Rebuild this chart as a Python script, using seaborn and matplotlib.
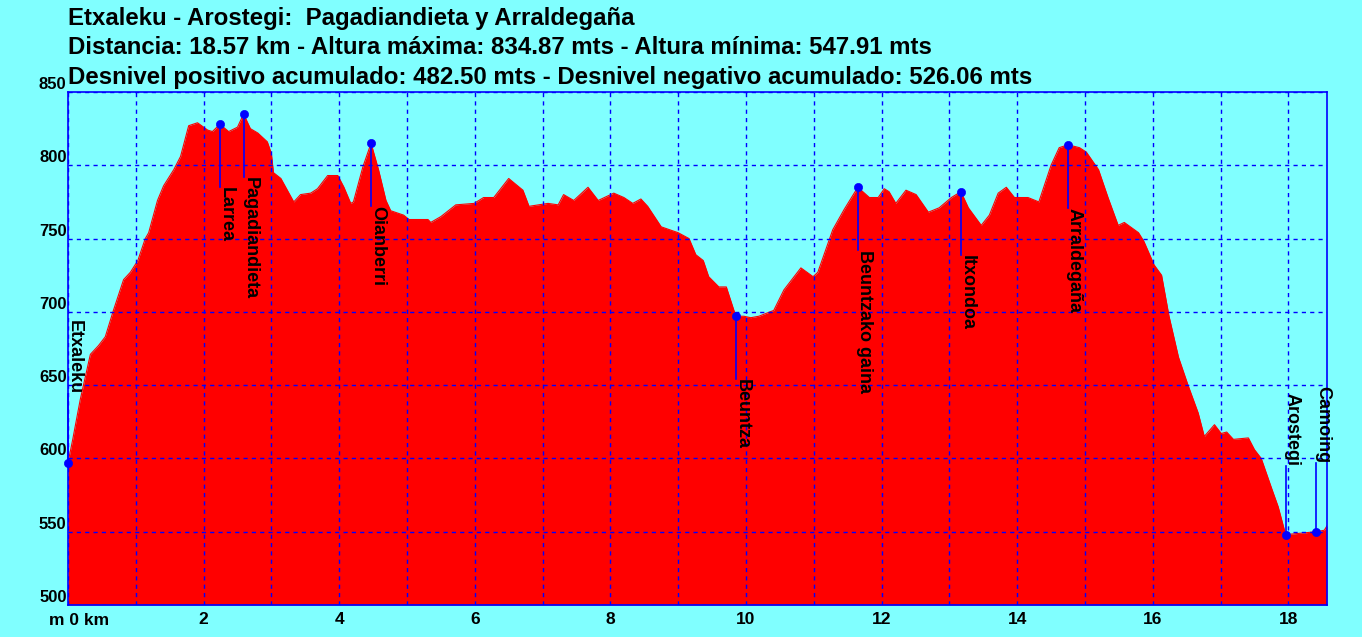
import numpy as np
import pandas as pd
import seaborn as sns
import matplotlib.pyplot as plt
from matplotlib.transforms import offset_copy

dist_km = [0.0, 0.07, 0.18, 0.33, 0.45, 0.55, 0.67, 0.82, 0.92, 1.03, 1.14, 1.19, 1.32, 1.41,
           1.56, 1.66, 1.78, 1.91, 2.06, 2.13, 2.24, 2.37, 2.50, 2.59, 2.69, 2.80, 2.94, 3.00,
           3.03, 3.14, 3.33, 3.43, 3.58, 3.68, 3.83, 3.98, 4.07, 4.17, 4.21, 4.35, 4.47, 4.58,
           4.69, 4.76, 4.95, 5.03, 5.31, 5.35, 5.50, 5.72, 5.99, 6.13, 6.28, 6.50, 6.71, 6.80,
           7.08, 7.23, 7.31, 7.46, 7.67, 7.82, 8.05, 8.20, 8.33, 8.45, 8.55, 8.75, 9.00, 9.16,
           9.26, 9.37, 9.45, 9.60, 9.71, 9.85, 9.97, 10.07, 10.19, 10.41, 10.56, 10.81, 10.99,
           11.06, 11.28, 11.45, 11.65, 11.82, 11.95, 12.04, 12.11, 12.21, 12.36, 12.51, 12.69,
           12.85, 13.03, 13.17, 13.28, 13.47, 13.59, 13.72, 13.84, 13.96, 14.16, 14.32, 14.50,
           14.62, 14.75, 14.92, 15.02, 15.20, 15.34, 15.49, 15.58, 15.79, 15.87, 16.02, 16.13,
           16.24, 16.38, 16.52, 16.67, 16.76, 16.91, 17.01, 17.09, 17.19, 17.41, 17.50, 17.60,
           17.75, 17.85, 17.96, 18.19, 18.41, 18.53, 18.57]
elev_m = [597, 613, 640, 671, 677, 683, 701, 722, 727, 735, 750, 754, 776, 786,
          797, 806, 827, 829, 824, 823, 828, 823, 826, 835, 825, 822, 816, 808,
          795, 791, 775, 780, 781, 784, 793, 793, 785, 774, 775, 799, 815, 797,
          776, 769, 766, 763, 763, 761, 765, 773, 774, 778, 778, 791, 783, 772,
          774, 773, 780, 776, 785, 776, 781, 778, 774, 777, 772, 758, 754, 750,
          739, 735, 724, 717, 717, 697, 697, 696, 697, 701, 715, 730, 724,
          727, 756, 770, 785, 778, 778, 784, 782, 774, 783, 780, 768,
          771, 778, 782, 771, 759, 766, 781, 785, 778, 778, 775, 800,
          812, 814, 812, 809, 797, 778, 759, 761, 754, 748, 732, 725,
          697, 669, 650, 631, 615, 623, 617, 618, 613, 614, 606, 600,
          580, 567, 548, 549, 550, 551, 554]

wp_names = ['Etxaleku', 'Larrea', 'Pagadiandieta', 'Oianberri', 'Beuntza',
            'Beuntzako gaina', 'Itxondoa', 'Arraldegaña', 'Arostegi', 'Camoing']
wp_km = [0.0, 2.24, 2.59, 4.47, 9.85, 11.65, 13.17, 14.75, 17.96, 18.41]
wp_elev = [597, 828, 835, 815, 697, 785, 782, 814, 548, 550]

title_lines = ['Etxaleku - Arostegi:  Pagadiandieta y Arraldegaña',
               'Distancia: 18.57 km - Altura máxima: 834.87 mts - Altura mínima: 547.91 mts',
               'Desnivel positivo acumulado: 482.50 mts - Desnivel negativo acumulado: 526.06 mts']

profile = pd.DataFrame({'km': dist_km, 'm': elev_m})
waypoints = pd.DataFrame({'name': wp_names, 'km': wp_km, 'm': wp_elev})

bg = '#80FFFF'
blue = '#0000FF'
plt.rcParams['font.family'] = ['Liberation Sans', 'DejaVu Sans']
plt.rcParams['font.weight'] = 'bold'

fig = plt.figure(figsize=(13.62, 6.37), dpi=100, facecolor=bg)
ax = fig.add_axes([68 / 1362, 1 - 605 / 637, (1327 - 68) / 1362, (605 - 92) / 637])
ax.set_facecolor(bg)

ax.fill_between(profile['km'], profile['m'], 500, color='#FF0000', lw=0, zorder=1)
sns.lineplot(data=profile, x='km', y='m', color='#FF0000', lw=0.8, ax=ax, zorder=1)

# waypoint markers, leader lines and names
txt_tr = offset_copy(ax.transData, fig=fig, x=-1.5, y=0, units='points')
for name, km, m in zip(wp_names, wp_km, wp_elev):
    if m < 650:
        end = m + 47
        va = 'bottom'
    else:
        end = m - 43
        va = 'top'
    ax.plot([km, km], [m, end], color=blue, lw=1.2, zorder=3, clip_on=False)
    ax.text(km, end, name, rotation=270, ha='left', va=va, fontsize=13,
            fontweight='bold', color='black', zorder=6, transform=txt_tr)
sns.scatterplot(data=waypoints, x='km', y='m', color=blue, s=35, edgecolor=blue,
                ax=ax, zorder=7, clip_on=False, legend=False)

ax.set_xlim(0, 18.57)
ax.set_ylim(500, 850)
ax.set_xticks(np.arange(0, 19, 1))
ax.set_yticks(np.arange(500, 851, 50))
ax.grid(True, color=blue, lw=1.0, ls=(0, (3, 3)), zorder=2)
ax.set_axisbelow(False)
for s in ax.spines.values():
    s.set_color(blue)
    s.set_linewidth(1.2)
    s.set_zorder(5)

xlabels = ['' if (k % 2 or k == 0) else str(k) for k in range(19)]
ax.set_xticklabels(xlabels, fontsize=12.5, fontweight='bold')
ax.set_yticklabels([str(v) for v in range(500, 851, 50)], fontsize=12, fontweight='bold')
for lab in ax.get_yticklabels():
    lab.set_verticalalignment('bottom')
ax.tick_params(axis='both', length=0)
ax.tick_params(axis='x', pad=5)
ax.tick_params(axis='y', pad=1)
ax.set_xlabel('')
ax.set_ylabel('')
ax.annotate('m 0 km', xy=(0, 0), xycoords='axes fraction', xytext=(-14, -6),
            textcoords='offset points', ha='left', va='top', fontsize=12.5, fontweight='bold')

for i, line in enumerate(title_lines):
    fig.text(68 / 1362, 1 - (25 + 29.5 * i) / 637, line, ha='left', va='baseline',
             fontsize=17.3, fontweight='bold', color='black')

fig.savefig('out.png', dpi=100, facecolor=bg)
